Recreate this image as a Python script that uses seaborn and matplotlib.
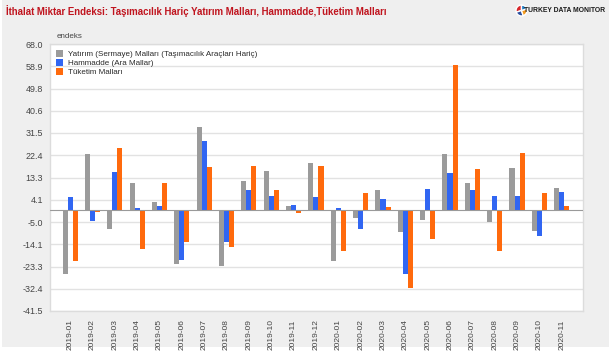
import numpy as np
import pandas as pd
import matplotlib
matplotlib.use("Agg")
import matplotlib.pyplot as plt
import seaborn as sns

months = ["2019-01", "2019-02", "2019-03", "2019-04", "2019-05", "2019-06",
          "2019-07", "2019-08", "2019-09", "2019-10", "2019-11", "2019-12",
          "2020-01", "2020-02", "2020-03", "2020-04", "2020-05", "2020-06",
          "2020-07", "2020-08", "2020-09", "2020-10", "2020-11"]
yatirim = [-26.3, 22.9, -7.9, 11.1, 3.4, -22.2, 34.1, -23.0, 11.9, 15.9, 1.4, 19.2,
           -21.1, -3.3, 8.1, -9.2, -4.1, 22.9, 10.8, -5.1, 17.3, -8.5, 9.0]
hammadde = [5.1, -4.7, 15.7, 0.8, 1.6, -20.7, 28.3, -13.0, 8.3, 5.5, 2.1, 5.2,
            0.8, -7.7, 4.4, -26.3, 8.6, 15.1, 8.3, 5.8, 5.8, -10.8, 7.5]
tuketim = [-21.0, -0.8, 25.5, -16.0, 11.0, -13.3, 17.5, -15.3, 17.9, 8.2, -1.2, 18.1,
           -17.0, 6.8, 1.2, -32.2, -11.8, 59.2, 16.8, -16.8, 23.4, 6.8, 1.5]
series_names = ["Yatırım (Sermaye) Malları (Taşımacılık Araçları Hariç)",
                "Hammadde (Ara Mallar)",
                "Tüketim Malları"]
ytick_labels = ["-41.5", "-32.4", "-23.3", "-14.1", "-5.0", "4.1", "13.3",
                "22.4", "31.5", "40.6", "49.8", "58.9", "68.0"]

df = pd.DataFrame({"ay": months * 3,
                   "deger": yatirim + hammadde + tuketim,
                   "seri": [series_names[0]] * 23 + [series_names[1]] * 23 + [series_names[2]] * 23})

sns.set_style("white")
plt.rcParams["font.family"] = ["Liberation Sans", "DejaVu Sans"]

fig = plt.figure(figsize=(6.09, 3.52), dpi=100)
fig.patch.set_facecolor("#efefef")
# white strip along the bottom and left edge like the screenshot
fig.patches.append(plt.Rectangle((0, 0), 1, 5 / 352, transform=fig.transFigure,
                                 facecolor="white", edgecolor="none"))
fig.patches.append(plt.Rectangle((0, 0), 2 / 609, 1, transform=fig.transFigure,
                                 facecolor="white", edgecolor="none"))

ax = fig.add_axes([50 / 609, 1 - 311 / 352, 533 / 609, 267 / 352])
ax.set_zorder(2)
ax.set_facecolor("white")
pal = ["#9b9b9b", "#3166f2", "#ff6a0d"]
sns.barplot(data=df, x="ay", y="deger", hue="seri", palette=pal, width=0.68,
            saturation=1, linewidth=0, ax=ax, zorder=3)

yt = np.linspace(-41.5, 68.0, 13)
ax.set_ylim(-41.5, 68.0)
ax.set_yticks(yt)
ax.set_yticklabels(ytick_labels)
ax.set_xlim(-0.9, 22.95)
ax.grid(axis="y", color="#e2e2e2", linewidth=1, zorder=0)
ax.axhline(0, color="#9a9a9a", linewidth=0.8, zorder=4)
for s in ax.spines.values():
    s.set_color("#dcdcdc")
    s.set_linewidth(1)
ax.tick_params(axis="y", length=0, labelsize=6.4, colors="#444444", pad=5)
ax.tick_params(axis="x", length=0, labelsize=6.0, colors="#444444", pad=6, rotation=90)
ax.set_xlabel("")
ax.set_ylabel("")

leg = ax.legend(loc="upper left", frameon=False, fontsize=5.8, handlelength=0.9,
                handleheight=0.9, handletextpad=0.6, labelspacing=0.1,
                borderaxespad=0.4, borderpad=0.35)
for t in leg.get_texts():
    t.set_color("#2a2a2a")

fig.text(57 / 609, 1 - 37 / 352, "endeks", fontsize=5.8, color="#444444", va="center")
fig.text(6 / 609, 1 - 11 / 352, "İthalat Miktar Endeksi: Taşımacılık Hariç Yatırım Malları, Hammadde,Tüketim Malları",
         fontsize=6.9, color="#c0141e", fontweight="bold", va="center")

# logo
fig.text(605 / 609, 1 - 10.5 / 352, "TURKEY DATA MONITOR", fontsize=4.9, color="#1a1a1a",
         va="center", ha="right", fontweight="bold")
lax = fig.add_axes([516 / 609, 1 - 16 / 352, 11 / 609, 11 / 352])
lax.pie([30, 25, 25, 20], colors=["#d7262b", "#2c4f9e", "#f39a1e", "#1f7ac0"],
        startangle=90, radius=1)
lax.set_xlim(-1, 1)
lax.set_ylim(-1, 1)
lax.set_aspect("equal")
lax.axis("off")

fig.savefig("out.png", dpi=100, facecolor=fig.get_facecolor())
